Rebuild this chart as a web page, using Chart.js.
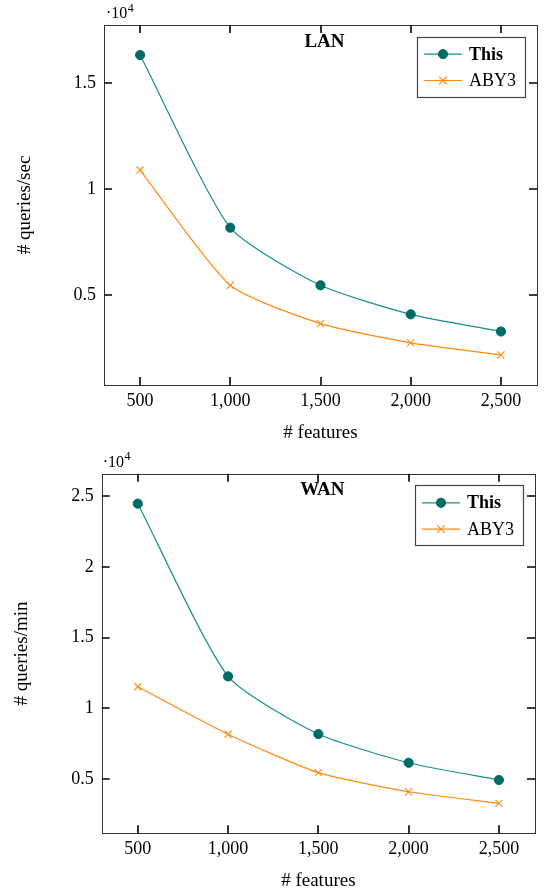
<!DOCTYPE html>
<html><head><meta charset="utf-8">
<script src="https://cdn.jsdelivr.net/npm/chart.js@4"></script>
<style>
html,body{margin:0;padding:0;background:#fff;width:544px;height:892px;overflow:hidden}
.box{position:absolute;left:0;width:544px;height:446px}
</style></head><body>
<div class="box" style="top:0"><canvas id="lan" width="544" height="446"></canvas></div>
<div class="box" style="top:446px"><canvas id="wan" width="544" height="446"></canvas></div>
<script>
// ---- data ----
const features = [500, 1000, 1500, 2000, 2500];
const xTicks = [500, 1000, 1500, 2000, 2500];
const seriesNames = ['This', 'ABY3'];
const lanThis = [16330, 8180, 5460, 4090, 3280];
const lanAby3 = [10900, 5460, 3650, 2740, 2170];
const wanThis = [24480, 12260, 8180, 6150, 4930];
const wanAby3 = [11530, 8170, 5450, 4100, 3280];
const lanYTicks = [5000, 10000, 15000];
const wanYTicks = [5000, 10000, 15000, 20000, 25000];
const xTitleText = '# features';
const lanYTitle = '# queries/sec';
const wanYTitle = '# queries/min';
const lanTitle = 'LAN';
const wanTitle = 'WAN';
const yScaleFactor = 10000;

const SERIF = "'Liberation Serif', 'Times New Roman', serif";
const TEAL_LINE = '#17908c';
const TEAL_MARK = '#006b64';
const ORANGE = '#ff8a10';

const pgfPlugin = {
  id: 'pgf',
  afterDraw(chart, args, o) {
    const {ctx, chartArea: a, scales: {x, y}} = chart;
    ctx.save();
    ctx.strokeStyle = '#333';
    ctx.lineWidth = 1;
    ctx.strokeRect(Math.round(a.left) + 0.5, Math.round(a.top) + 0.5,
      Math.round(a.right) - Math.round(a.left), Math.round(a.bottom) - Math.round(a.top));
    ctx.strokeStyle = '#000';
    ctx.lineWidth = 1.6;
    const tl = 8;
    ctx.beginPath();
    x.ticks.forEach(t => {
      const px = Math.round(x.getPixelForValue(t.value));
      ctx.moveTo(px, a.bottom); ctx.lineTo(px, a.bottom - tl);
      ctx.moveTo(px, a.top); ctx.lineTo(px, a.top + tl);
    });
    y.ticks.forEach(t => {
      const py = Math.round(y.getPixelForValue(t.value));
      ctx.moveTo(a.left, py); ctx.lineTo(a.left + tl, py);
      ctx.moveTo(a.right, py); ctx.lineTo(a.right - tl, py);
    });
    ctx.stroke();
    ctx.fillStyle = '#000';
    ctx.textBaseline = 'alphabetic';
    ctx.textAlign = 'left';
    ctx.font = '16px ' + SERIF;
    const ex = a.left + o.expDx, ey = a.top - 7;
    ctx.fillText('\u00b710', ex, ey);
    const w = ctx.measureText('\u00b710').width;
    ctx.font = '12px ' + SERIF;
    ctx.fillText('4', ex + w + 0.5, ey - 6.5);
    ctx.font = 'bold 19px ' + SERIF;
    ctx.textAlign = 'center';
    ctx.textBaseline = 'middle';
    ctx.fillText(o.title, (a.left + a.right) / 2 + 4, a.top + o.titleDy);
    const bw = 108, bh = 60;
    const bx = a.right - 12 - bw, by = a.top + 11.5;
    ctx.fillStyle = '#fff';
    ctx.fillRect(bx, by, bw, bh);
    ctx.strokeStyle = '#444';
    ctx.lineWidth = 1.2;
    ctx.strokeRect(Math.round(bx) + 0.5, Math.round(by) + 0.5, bw, bh);
    const rows = [by + 17.6, by + 44];
    chart.data.datasets.forEach((ds, i) => {
      const ry = rows[i];
      ctx.strokeStyle = ds.borderColor;
      ctx.lineWidth = ds.borderWidth;
      ctx.beginPath();
      ctx.moveTo(bx + 7, ry); ctx.lineTo(bx + 45, ry);
      ctx.stroke();
      ctx.fillStyle = ds.pointBackgroundColor;
      ctx.strokeStyle = ds.pointBorderColor;
      ctx.lineWidth = ds.pointBorderWidth;
      ctx.beginPath();
      if (ds.pointStyle === 'circle') {
        ctx.arc(bx + 26, ry, ds.pointRadius, 0, Math.PI * 2);
        ctx.fill(); ctx.stroke();
      } else {
        const r = ds.pointRadius * 0.75;
        ctx.moveTo(bx + 26 - r, ry - r); ctx.lineTo(bx + 26 + r, ry + r);
        ctx.moveTo(bx + 26 - r, ry + r); ctx.lineTo(bx + 26 + r, ry - r);
        ctx.stroke();
      }
      ctx.fillStyle = '#000';
      ctx.textAlign = 'left';
      ctx.textBaseline = 'middle';
      ctx.font = (i === 0 ? 'bold ' : '') + '18px ' + SERIF;
      ctx.fillText(ds.label, bx + 52, ry + 1);
    });
    ctx.restore();
  }
};

function rangeOf(arrs) {
  const all = arrs.flat();
  const mn = Math.min(...all), mx = Math.max(...all);
  const pad = (mx - mn) * 0.1;
  return [mn - pad, mx + pad];
}

function makeChart(id, thisVals, abyVals, yTicks, yTitle, title, geo) {
  const [ymin, ymax] = rangeOf([thisVals, abyVals]);
  const span = features[features.length - 1] - features[0];
  const xmin = features[0] - span * 0.1;
  const xmax = features[features.length - 1] + span * 0.1;
  return new Chart(document.getElementById(id), {
    type: 'line',
    data: {
      datasets: [
        {
          label: seriesNames[0],
          data: features.map((f, i) => ({x: f, y: thisVals[i]})),
          borderColor: TEAL_LINE, borderWidth: 1.2,
          pointStyle: 'circle', pointRadius: 4.6, pointBorderWidth: 1,
          pointBackgroundColor: TEAL_MARK, pointBorderColor: TEAL_MARK,
          tension: 0.2, fill: false
        },
        {
          label: seriesNames[1],
          data: features.map((f, i) => ({x: f, y: abyVals[i]})),
          borderColor: ORANGE, borderWidth: 1.2,
          pointStyle: 'crossRot', pointRadius: 5, pointBorderWidth: 1.1,
          pointBackgroundColor: ORANGE, pointBorderColor: ORANGE,
          tension: 0.2, fill: false
        }
      ]
    },
    options: {
      responsive: false,
      animation: false,
      devicePixelRatio: 1,
      layout: {padding: {top: geo.padTop, right: geo.padRight, left: 0, bottom: 0}},
      plugins: {
        legend: {display: false},
        tooltip: {enabled: false},
        pgf: {title: title, titleDy: geo.titleDy, expDx: geo.expDx}
      },
      scales: {
        x: {
          type: 'linear', min: xmin, max: xmax,
          afterBuildTicks: s => { s.ticks = xTicks.map(v => ({value: v})); },
          afterFit: s => { s.height = geo.xHeight; s.paddingLeft = 0; s.paddingRight = 0; },
          grid: {display: false, drawTicks: false},
          border: {display: false},
          ticks: {
            padding: 5, color: '#000', maxRotation: 0, autoSkip: false,
            font: {family: SERIF, size: 18},
            callback: v => v.toLocaleString('en-US')
          },
          title: {
            display: true, text: xTitleText, color: '#000',
            font: {family: SERIF, size: 19},
            padding: {top: 0, bottom: geo.xTitlePad}
          }
        },
        y: {
          type: 'linear', min: ymin, max: ymax,
          afterBuildTicks: s => { s.ticks = yTicks.map(v => ({value: v})); },
          afterFit: s => { s.width = geo.yWidth; s.paddingTop = 0; s.paddingBottom = 0; },
          grid: {display: false, drawTicks: false},
          border: {display: false},
          ticks: {
            padding: 8, color: '#000', autoSkip: false,
            font: {family: SERIF, size: 18},
            callback: v => String(v / yScaleFactor)
          },
          title: {
            display: true, text: yTitle, color: '#000',
            font: {family: SERIF, size: 19},
            padding: {top: geo.yTitlePad, bottom: 0}
          }
        }
      }
    },
    plugins: [pgfPlugin]
  });
}

makeChart('lan', lanThis, lanAby3, lanYTicks, lanYTitle, lanTitle,
  {padTop: 25, padRight: 7, yWidth: 104, xHeight: 61, yTitlePad: 13.6, xTitlePad: 1.6, titleDy: 17.5, expDx: 2});
makeChart('wan', wanThis, wanAby3, wanYTicks, wanYTitle, wanTitle,
  {padTop: 27.7, padRight: 9, yWidth: 101.7, xHeight: 58.7, yTitlePad: 11.1, xTitlePad: 0, titleDy: 16, expDx: 1});
</script>
</body></html>
